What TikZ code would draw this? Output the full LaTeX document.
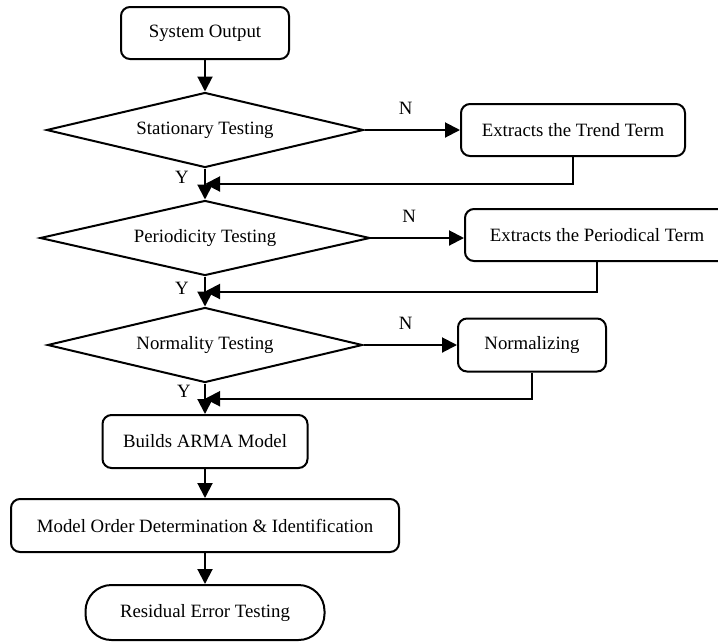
\documentclass[tikz,border=0pt]{standalone}
\usepackage{fontspec}
\setmainfont{Liberation Serif}
\usetikzlibrary{positioning, arrows.meta, shapes.geometric, calc}

\begin{document}
\begin{tikzpicture}[x=1pt, y=-1pt, on grid,
    every node/.style={font=\fontsize{18.8}{22}\selectfont},
    box/.style={draw, rounded corners=9pt, line width=2pt, minimum height=52pt, inner sep=0pt},
    test/.style={draw, diamond, aspect=4.3, line width=2pt, minimum height=75pt, inner sep=0pt},
    term/.style={draw, rounded corners=26pt, line width=2pt, minimum height=55pt, inner sep=0pt},
    line/.style={line width=2pt},
    arr/.style={line, -{Triangle[length=15pt, width=15pt]}}]
    \useasboundingbox (0,0) rectangle (718,641);

    % Define main column
    \node[box, minimum width=168pt] (sysout) at (205,33) {System Output};
    \node[test, minimum width=317pt] (stat) [below=97pt of sysout] {Stationary Testing};
    \node[test, minimum width=330pt] (peri) [below=108pt of stat] {Periodicity Testing};
    \node[test, minimum width=315pt] (normt) [below=107pt of peri] {Normality Testing};
    \node[box, minimum width=205pt, minimum height=53pt] (arma) [below=96.5pt of normt] {Builds ARMA Model};
    \node[box, minimum width=388pt, minimum height=53pt] (order) [below=84pt of arma] {Model Order Determination \& Identification};
    \node[term, minimum width=239pt] (resid) [below=87pt of order] {Residual Error Testing};

    % Define side boxes
    \node[box, minimum width=224pt] (trend) [right=368pt of stat] {Extracts the Trend Term};
    \node[box, minimum width=264pt] (perterm) [above right=3pt and 392pt of peri] {Extracts the Periodical Term};
    \node[box, minimum width=148pt, minimum height=53pt] (normz) [right=327pt of normt] {Normalizing};

    % Define junctions
    \coordinate (j1) at ($(stat.south)!0.5!(peri.north)$);
    \coordinate (j2) at ($(peri.south)!0.5!(normt.north)$);
    \coordinate (j3) at ($(normt.south)!0.5!(arma.north)$);

    % Define transitions
    \draw[arr] (sysout) -- (stat);
    \draw[arr] (stat.east) -- node[above=11pt, pos=0.43] {N} (stat.east -| trend.west);
    \draw[arr] (stat) -- node[left=12pt, pos=0.3] {Y} (peri);
    \draw[arr] (trend.south) |- (j1);
    \draw[arr] (peri.east) -- node[above=11pt, pos=0.41] {N} (peri.east -| perterm.west);
    \draw[arr] (peri) -- node[left=12pt, pos=0.4] {Y} (normt);
    \draw[arr] (perterm.south) |- (j2);
    \draw[arr] (normt.east) -- node[above=11pt, pos=0.45] {N} (normt.east -| normz.west);
    \draw[arr] (normt) -- node[left=10pt, pos=0.25] {Y} (arma);
    \draw[arr] (normz.south) |- (j3);
    \draw[arr] (arma) -- (order);
    \draw[arr] (order) -- (resid);
\end{tikzpicture}
\end{document}
